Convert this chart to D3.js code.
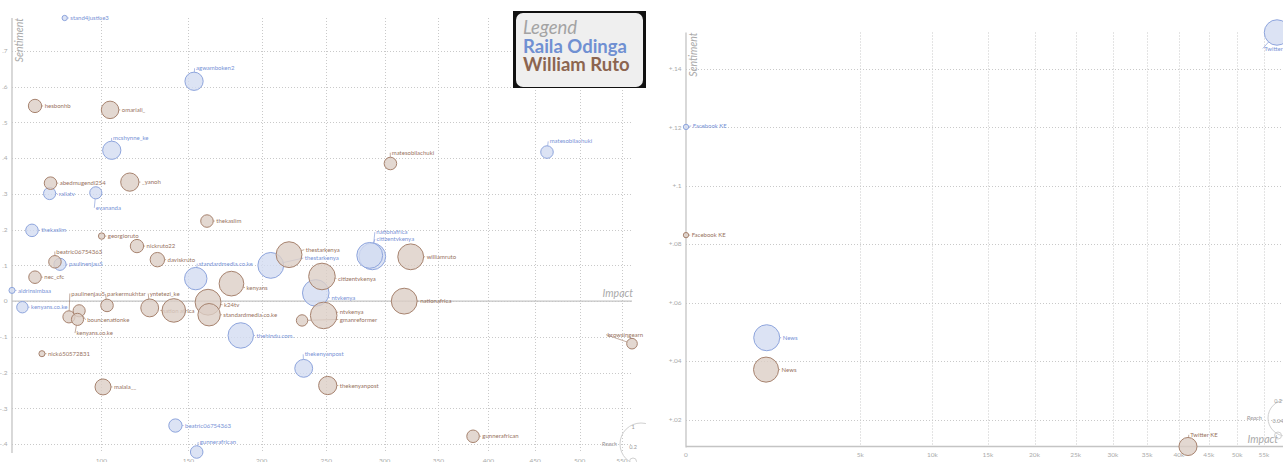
<!DOCTYPE html>
<html>
<head>
<meta charset="utf-8">
<script src="https://cdn.jsdelivr.net/npm/d3@7"></script>
<style>
body { margin: 0; background: #fff; overflow: hidden; }
svg { display: block; font-family: Lato, "Open Sans", sans-serif; }
</style>
</head>
<body>
<script>
/* Data: accounts (left) and channels (right)
   ========================================================================== */

// Raila Odinga - accounts
var railaNames = ["stand4justice3", "agwamboken2", "mcshynne_ke", "railatv", "evananda", "thekaslim",
    "paulinenjau5", "aldrinsimbaa", "kenyans.co.ke", "standardmedia.co.ke", "thestarkenya", "nationafrica",
    "citizentvkenya", "ntvkenya", "thehindu.com.", "thekenyanpost", "beatric06754363", "gunnerafrican",
    "matesobilachuki"];
var railaImpact = [81.9, 153.6, 105.4, 75.0, 97.1, 67.3, 79.7, 59.1, 63.3, 154.7, 206.7, 289.1,
    286.8, 241.5, 185.0, 231.9, 141.9, 155.3, 463.0];
var railaSentiment = [0.792, 0.615, 0.422, 0.301, 0.303, 0.198, 0.103, 0.030, -0.017, 0.063, 0.100, 0.125,
    0.128, 0.023, -0.096, -0.188, -0.348, -0.422, 0.417];
var railaReach = [0.14, 0.48, 0.48, 0.32, 0.32, 0.33, 0.32, 0.16, 0.30, 0.59, 0.68, 0.70,
    0.68, 0.70, 0.67, 0.47, 0.35, 0.33, 0.33];

// William Ruto - accounts
var rutoNames = ["hesbonhb", "omariali_", "abedmugendi254", "_yanoh", "thekaslim", "matesobilachuki",
    "georgioruto", "nickruto22", "daviskruto", "beatric06754363", "nec_cfc", "kenyans", "thestarkenya",
    "citizentvkenya", "williamruto", "nationafrica", "k24tv", "standardmedia.co.ke", "nation africa",
    "yntetezi_ke", "parkermukhtar", "paulinenjau5", "bouncenationke", "kenyans.co.ke", "ntvkenya",
    "gmanreformer", "nick650572831", "malala__", "thekenyanpost", "gunnerafrican", "browsingearn"];
var rutoImpact = [68.6, 104.5, 75.4, 115.2, 162.0, 305.2, 100.1, 119.2, 131.0, 77.4, 68.6, 178.5, 220.5,
    246.5, 323.8, 317.8, 162.7, 163.4, 140.9, 126.5, 102.9, 83.9, 88.8, 88.0, 247.9,
    230.6, 71.6, 100.8, 251.2, 384.4, 562.4];
var rutoSentiment = [0.546, 0.535, 0.330, 0.333, 0.224, 0.385, 0.182, 0.154, 0.116, 0.110, 0.067, 0.049, 0.130,
    0.069, 0.124, 0.000, -0.003, -0.038, -0.026, -0.019, -0.012, -0.044, -0.027, -0.051, -0.040,
    -0.054, -0.147, -0.240, -0.236, -0.378, -0.119];
var rutoReach = [0.35, 0.46, 0.33, 0.48, 0.33, 0.33, 0.17, 0.35, 0.38, 0.33, 0.33, 0.65, 0.68,
    0.70, 0.68, 0.68, 0.68, 0.59, 0.62, 0.47, 0.33, 0.32, 0.32, 0.32, 0.70,
    0.30, 0.16, 0.42, 0.48, 0.33, 0.28];

// Channels
var railaChannels = ["Facebook KE", "News", "Twitter"];
var railaChannelImpact = [0, 1073, 57510];
var railaChannelSentiment = [0.1201, 0.0480, 0.1524];
var railaChannelReach = [0.028, 0.137, 0.134];

var rutoChannels = ["Facebook KE", "News", "Twitter KE"];
var rutoChannelImpact = [0, 1055, 41490];
var rutoChannelSentiment = [0.0831, 0.0371, 0.0108];
var rutoChannelReach = [0.028, 0.132, 0.095];

// Ticks
var leftXTicks = [100, 150, 200, 250, 300, 350, 400, 450, 500, 550];
var leftYTicks = [-0.4, -0.3, -0.2, -0.1, 0, 0.1, 0.2, 0.3, 0.4, 0.5, 0.6, 0.7];
var rightXTicks = [0, 5000, 10000, 15000, 20000, 25000, 30000, 35000, 40000, 45000, 50000, 55000];
var rightYTicks = [0.02, 0.04, 0.06, 0.08, 0.1, 0.12, 0.14];

var legendNames = ["Raila Odinga", "William Ruto"];

/* Styles and label placement
   ========================================================================== */
var colors = {
    raila: { stroke: "#8ea5dd", fill: "#d3dcf1", text: "#7892d6", legend: "#7090d2" },
    ruto: { stroke: "#a7836f", fill: "#dccec5", text: "#98725e", legend: "#8c6550" }
};

// label offsets from the bubble centre (label start x, label middle y)
var labelNudge = {
    "raila|agwamboken2": [2, -13], "raila|mcshynne_ke": [1.3, -12.3], "raila|evananda": [0, 15],
    "raila|standardmedia.co.ke": [3, -15], "raila|nationafrica": [4, -24.3], "raila|citizentvkenya": [6.7, -16.3],
    "raila|thestarkenya": [34, -7.3], "raila|ntvkenya": [15.7, 5], "raila|thekenyanpost": [1, -14],
    "raila|gunnerafrican": [3, -10], "raila|matesobilachuki": [2.7, -10.7],
    "ruto|matesobilachuki": [1.3, -10.8], "ruto|beatric06754363": [1.4, -10.3], "ruto|thestarkenya": [16.7, -5],
    "ruto|citizentvkenya": [16, 2], "ruto|kenyans": [15, 4], "ruto|k24tv": [16, 2.6], "ruto|ntvkenya": [16, -3.3],
    "ruto|gmanreformer": [37.7, -1], "ruto|nation africa": [-12, 0], "ruto|yntetezi_ke": [0, -14.4],
    "ruto|parkermukhtar": [0, -11.3], "ruto|paulinenjau5": [2.4, -23.4], "ruto|bouncenationke": [8, 9],
    "ruto|kenyans.co.ke": [-1, 13.7], "ruto|browsingearn": [-24.5, -9],
    "raila|Facebook KE": [6.7, -1], "raila|Twitter": [-12.7, 16], "ruto|Twitter KE": [2.3, -11.7]
};

var W = 1283, H = 462;
var svg = d3.select("body").append("svg").attr("width", W).attr("height", H);
var defs = svg.append("defs");

function buildSeries(key, names, impact, sentiment, reach) {
    return names.map(function(n, i) {
        return { key: key, name: n, impact: impact[i], sentiment: sentiment[i], reach: reach[i] };
    });
}

function drawPanel(p) {
    defs.append("clipPath").attr("id", p.id)
        .append("rect").attr("x", p.clip[0]).attr("y", 0)
        .attr("width", p.clip[1] - p.clip[0]).attr("height", H);
    var g = svg.append("g").attr("clip-path", "url(#" + p.id + ")");
    var x = p.x, y = p.y, r = p.r;
    var xr = x.range(), yr = y.range();
    var all = p.series[0].concat(p.series[1]);

    // Grid
    g.append("g").selectAll("line").data(p.yTicks).enter().append("line")
        .attr("x1", xr[0]).attr("x2", p.gridEnd)
        .attr("y1", function(d) { return Math.round(y(d)) + 0.5; })
        .attr("y2", function(d) { return Math.round(y(d)) + 0.5; })
        .attr("stroke", "#c9c9c9").attr("stroke-dasharray", "1,2");
    g.append("g").selectAll("line").data(p.xTicks.filter(function(d) { return d > x.domain()[0]; })).enter().append("line")
        .attr("x1", function(d) { return Math.round(x(d)) + 0.5; })
        .attr("x2", function(d) { return Math.round(x(d)) + 0.5; })
        .attr("y1", yr[1]).attr("y2", yr[0])
        .attr("stroke", "#c9c9c9").attr("stroke-dasharray", "1,2");

    // Tick labels
    g.append("g").selectAll("text").data(p.yTicks).enter().append("text")
        .attr("x", xr[0] - 4.5).attr("y", function(d) { return y(d); }).attr("dy", "0.35em")
        .attr("text-anchor", "end").attr("font-size", 6.5).attr("fill", "#aaa")
        .text(p.yFormat);
    g.append("g").selectAll("text").data(p.xTicks).enter().append("text")
        .attr("x", function(d) { return x(d); }).attr("y", yr[0] + p.xLabelGap)
        .attr("text-anchor", "middle").attr("font-size", 6.5).attr("fill", "#aaa")
        .text(p.xFormat);

    // Axis lines
    var y0 = y.copy().clamp(true)(0);
    g.append("line").attr("x1", xr[0]).attr("x2", xr[0]).attr("y1", yr[1]).attr("y2", yr[0] + 1)
        .attr("stroke", "#c4c4c4").attr("stroke-width", 1.3);
    g.append("line").attr("x1", xr[0]).attr("x2", p.zeroEnd).attr("y1", y0).attr("y2", y0)
        .attr("stroke", "#c4c4c4").attr("stroke-width", 1.3);

    // Axis titles
    g.append("text").attr("transform", "translate(" + (xr[0] + 11) + "," + yr[1] + ") rotate(-90)")
        .attr("text-anchor", "end").attr("font-size", 10.5).attr("font-style", "italic")
        .attr("fill", "#aaa").text("Sentiment");
    g.append("text").attr("x", xr[1] + 1).attr("y", y0 - 4)
        .attr("text-anchor", "end").attr("font-size", 10.5).attr("font-style", "italic")
        .attr("fill", "#aaa").text("Impact");

    // Reach legend
    var lg = g.append("g");
    var lx = xr[1] + 1, cy = p.legendY;
    lg.append("circle").attr("cx", xr[1] + 9).attr("cy", cy).attr("r", p.legendR)
        .attr("fill", "none").attr("stroke", "#d0d0d0");
    lg.append("circle").attr("cx", lx).attr("cy", cy + 17.5).attr("r", 3.5)
        .attr("fill", "none").attr("stroke", "#d0d0d0");
    lg.append("text").attr("x", lx).attr("y", cy - 17).attr("dy", "0.35em").attr("text-anchor", "middle")
        .attr("font-size", 5.5).attr("fill", "#999").text(p.legendTop);
    lg.append("text").attr("x", lx).attr("y", cy + 3).attr("dy", "0.35em").attr("text-anchor", "middle")
        .attr("font-size", 5.5).attr("fill", "#999").text(p.legendBottom);
    lg.append("text").attr("x", xr[1] - 15).attr("y", cy).attr("dy", "0.35em").attr("text-anchor", "end")
        .attr("font-size", 6).attr("font-style", "italic").attr("fill", "#999").text("Reach");

    // Labels (under the bubbles)
    all.forEach(function(d) {
        d.cx = x(d.impact); d.cy = y(d.sentiment); d.rr = r(d.reach);
        var n = labelNudge[d.key + "|" + d.name] || [d.rr + 3, 0];
        d.lx = d.cx + n[0]; d.ly = d.cy + n[1];
    });
    var labels = g.append("g");
    labels.selectAll("line").data(all.filter(function(d) {
        var tx = d.lx - 1.5 - d.cx, ty = d.ly - d.cy;
        return Math.sqrt(tx * tx + ty * ty) > d.rr + 0.5;
    })).enter().append("line")
        .attr("x1", function(d) {
            var tx = d.lx - 1.5 - d.cx, ty = d.ly - d.cy, l = Math.sqrt(tx * tx + ty * ty);
            return d.cx + tx * d.rr / l;
        })
        .attr("y1", function(d) {
            var tx = d.lx - 1.5 - d.cx, ty = d.ly - d.cy, l = Math.sqrt(tx * tx + ty * ty);
            return d.cy + ty * d.rr / l;
        })
        .attr("x2", function(d) { return d.lx - 1.5; })
        .attr("y2", function(d) { return d.ly; })
        .attr("stroke", function(d) { return colors[d.key].text; }).attr("stroke-width", 0.6);
    labels.selectAll("text").data(all).enter().append("text")
        .attr("x", function(d) { return d.lx; })
        .attr("y", function(d) { return d.ly; })
        .attr("dy", "0.35em").attr("font-size", 6)
        .attr("fill", function(d) { return colors[d.key].text; })
        .text(function(d) { return d.name; });

    // Bubbles (Raila first, Ruto on top)
    p.series.forEach(function(s) {
        g.append("g").selectAll("circle").data(s).enter().append("circle")
            .attr("cx", function(d) { return d.cx; })
            .attr("cy", function(d) { return d.cy; })
            .attr("r", function(d) { return d.rr; })
            .attr("fill", function(d) { return colors[d.key].fill; })
            .attr("fill-opacity", 0.8)
            .attr("stroke", function(d) { return colors[d.key].stroke; })
            .attr("stroke-width", 1);
    });
}

/* Left panel: accounts
   ========================================================================== */
var railaAccounts = buildSeries("raila", railaNames, railaImpact, railaSentiment, railaReach);
var rutoAccounts = buildSeries("ruto", rutoNames, rutoImpact, rutoSentiment, rutoReach);
var leftAll = railaAccounts.concat(rutoAccounts);

drawPanel({
    id: "clipLeft", clip: [0, 646],
    x: d3.scaleSqrt().domain(d3.extent(leftAll, function(d) { return d.impact; })).range([12, 632]),
    y: d3.scaleLinear().domain(d3.extent(leftAll, function(d) { return d.sentiment; })).range([452, 18]),
    r: d3.scaleLinear().domain([0, 1]).range([0, 19]),
    xTicks: leftXTicks, yTicks: leftYTicks,
    xFormat: function(d) { return d; },
    yFormat: function(d) { return d === 0 ? "0" : d3.format(".1f")(d).replace("0.", "."); },
    xLabelGap: 11, gridEnd: 632, zeroEnd: 632,
    legendY: 444, legendR: 21, legendTop: "1", legendBottom: "0.2",
    series: [railaAccounts, rutoAccounts]
});

/* Right panel: channels
   ========================================================================== */
var railaCh = buildSeries("raila", railaChannels, railaChannelImpact, railaChannelSentiment, railaChannelReach);
var rutoCh = buildSeries("ruto", rutoChannels, rutoChannelImpact, rutoChannelSentiment, rutoChannelReach);
var rightAll = railaCh.concat(rutoCh);

drawPanel({
    id: "clipRight", clip: [646, W],
    x: d3.scaleSqrt().domain(d3.extent(rightAll, function(d) { return d.impact; })).range([686, 1277]),
    y: d3.scaleLinear().domain(d3.extent(rightAll, function(d) { return d.sentiment; })).range([446.5, 32.5]),
    r: d3.scaleLinear().domain([0, 0.2]).range([0, 19]),
    xTicks: rightXTicks, yTicks: rightYTicks,
    xFormat: function(d) { return d === 0 ? "0" : (d / 1000) + "k"; },
    yFormat: function(d) { return d3.format("+")(d).replace("0.", "."); },
    xLabelGap: 10.5, gridEnd: W, zeroEnd: W,
    legendY: 418, legendR: 18, legendTop: "0.2", legendBottom: "0.04",
    series: [railaCh, rutoCh]
});

/* Series legend box
   ========================================================================== */
var box = svg.append("g");
box.append("rect").attr("x", 513).attr("y", 11).attr("width", 133).attr("height", 77).attr("fill", "#111");
box.append("rect").attr("x", 516).attr("y", 13).attr("width", 127).attr("height", 74)
    .attr("rx", 7).attr("fill", "#efefef");
box.append("text").attr("x", 523).attr("y", 34).attr("font-size", 18.5).attr("font-style", "italic")
    .attr("fill", "#a3a3a3").text("Legend");
box.append("text").attr("x", 523).attr("y", 53).attr("font-size", 18.5).attr("font-weight", 700)
    .attr("fill", colors.raila.legend).text(legendNames[0]);
box.append("text").attr("x", 523).attr("y", 71).attr("font-size", 18.5).attr("font-weight", 700)
    .attr("fill", colors.ruto.legend).text(legendNames[1]);
</script>
</body>
</html>
